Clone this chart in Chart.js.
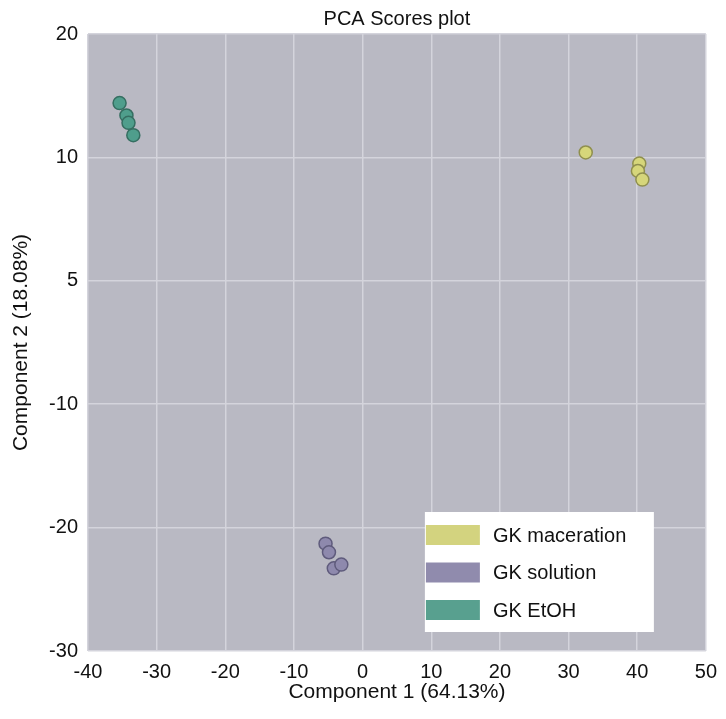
<!DOCTYPE html>
<html>
<head>
<meta charset="utf-8">
<script src="https://cdn.jsdelivr.net/npm/chart.js@4"></script>
<style>
  html, body { margin: 0; padding: 0; background: #fff; }
  #wrap { width: 726px; height: 719px; }
</style>
</head>
<body>
<div id="wrap"><canvas id="pcaChart" width="726" height="719"></canvas></div>
<script>
// PCA scores
const groupNames = ["GK maceration", "GK solution", "GK EtOH"];
const macerationX = [32.5, 40.3, 40.1, 40.75];
const macerationY = [10.4, 9.5, 8.9, 8.2];
const solutionX = [-5.4, -4.9, -4.2, -3.1];
const solutionY = [-21.3, -22.0, -23.3, -23.0];
const ethanolX = [-35.4, -34.4, -34.1, -33.4];
const ethanolY = [14.4, 13.4, 12.8, 11.8];

const xTickValues = [-40, -30, -20, -10, 0, 10, 20, 30, 40, 50];
const yTickValues = [20, 10, 0, -10, -20, -30];
const yTickLabels = ["20", "10", "5", "-10", "-20", "-30"];

const fillColors = ["#d6d67a", "#8e89ad", "#4f9e8c"];
const edgeColors = ["#8f8f4e", "#5f5b7c", "#356e61"];
const legendColors = ["#d3d37f", "#908bad", "#58a08f"];

const FONT = "'Liberation Sans', Arial, sans-serif";
const chartTitle = "PCA Scores plot";

function toPoints(xs, ys) {
  return xs.map((x, i) => ({ x: x, y: ys[i] }));
}

// grey panel behind the plot
const panelBg = {
  id: "panelBg",
  beforeDraw(chart) {
    const { ctx, chartArea: a } = chart;
    ctx.save();
    ctx.fillStyle = "#b9b9c3";
    ctx.fillRect(a.left, a.top, a.right - a.left, a.bottom - a.top);
    ctx.restore();
  },
};

// title centred over the plot area, not the whole canvas
const plotTitle = {
  id: "plotTitle",
  afterDraw(chart) {
    const { ctx, chartArea: a } = chart;
    ctx.save();
    ctx.font = "20px " + FONT;
    ctx.fillStyle = "#111";
    ctx.textAlign = "center";
    ctx.textBaseline = "alphabetic";
    ctx.fillText(chartTitle, (a.left + a.right) / 2, 25);
    ctx.restore();
  },
};

// legend box drawn inside the plot, lower right
const insideLegend = {
  id: "insideLegend",
  afterDraw(chart) {
    const { ctx, chartArea: a } = chart;
    const boxW = 229, boxH = 120;
    const bx = a.right - 52 - boxW;
    const by = a.bottom - 19 - boxH;
    ctx.save();
    ctx.fillStyle = "#ffffff";
    ctx.fillRect(bx, by, boxW, boxH);
    ctx.font = "20px " + FONT;
    ctx.textBaseline = "middle";
    groupNames.forEach((name, i) => {
      const cy = by + 23 + i * 37.5;
      ctx.fillStyle = legendColors[i];
      ctx.fillRect(bx + 1, cy - 10, 54, 20);
      ctx.fillStyle = "#111";
      ctx.fillText(name, bx + 68, cy + 1);
    });
    ctx.restore();
  },
};

const datasets = [
  toPoints(macerationX, macerationY),
  toPoints(solutionX, solutionY),
  toPoints(ethanolX, ethanolY),
].map((pts, i) => ({
  label: groupNames[i],
  data: pts,
  backgroundColor: fillColors[i],
  borderColor: edgeColors[i],
  borderWidth: 1.5,
  pointRadius: 6.5,
}));

const ctxPca = document.getElementById("pcaChart").getContext("2d");
let pcaChart = new Chart(ctxPca, {
  type: "scatter",
  data: { datasets: datasets },
  options: {
    responsive: false,
    animation: false,
    layout: { padding: { left: 0, right: 20, top: 34, bottom: 0 } },
    plugins: {
      legend: { display: false },
      tooltip: { enabled: false },
      title: { display: false },
    },
    scales: {
      x: {
        type: "linear",
        min: -40,
        max: 50,
        afterBuildTicks(scale) {
          scale.ticks = xTickValues.map((v) => ({ value: v }));
        },
        afterFit(scale) {
          scale.height = 68;
        },
        ticks: {
          color: "#111",
          font: { family: FONT, size: 20 },
          padding: 9,
          maxRotation: 0,
        },
        grid: { color: "#d4d4dc", lineWidth: 1.5, drawTicks: false },
        border: { display: false },
        title: {
          display: true,
          text: "Component 1 (64.13%)",
          color: "#111",
          font: { family: FONT, size: 21 },
          padding: { top: 0, bottom: 14 },
        },
      },
      y: {
        type: "linear",
        min: -30,
        max: 20,
        afterBuildTicks(scale) {
          scale.ticks = yTickValues.map((v) => ({ value: v }));
        },
        afterFit(scale) {
          scale.width = 88;
        },
        ticks: {
          color: "#111",
          font: { family: FONT, size: 20 },
          padding: 10,
          callback: (v) => yTickLabels[yTickValues.indexOf(v)],
        },
        grid: { color: "#d4d4dc", lineWidth: 1.5, drawTicks: false },
        border: { display: false },
        title: {
          display: true,
          text: "Component 2 (18.08%)",
          color: "#111",
          font: { family: FONT, size: 21 },
          padding: { top: 9, bottom: 0 },
        },
      },
    },
  },
  plugins: [panelBg, plotTitle, insideLegend],
});
</script>
</body>
</html>
